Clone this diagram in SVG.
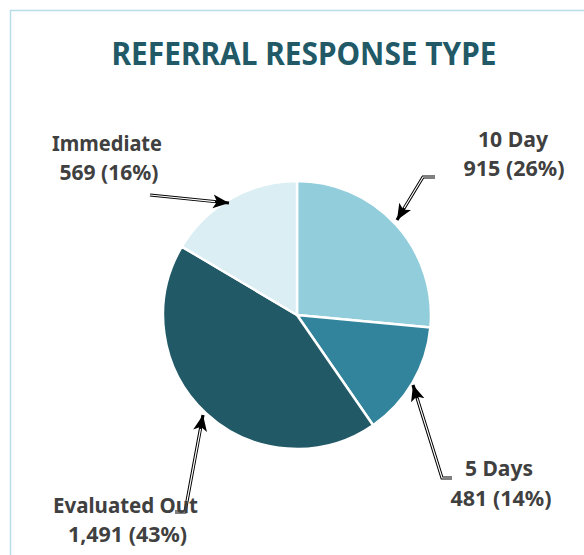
<svg xmlns="http://www.w3.org/2000/svg" width="584" height="555" viewBox="0 0 584 555">
<defs>
<style>
.title{font-family:"Noto Sans","Liberation Sans",sans-serif;font-weight:bold;font-size:32px;fill:#215967;text-anchor:middle}
.lbl{font-family:"Noto Sans","Liberation Sans",sans-serif;font-weight:bold;font-size:22px;fill:#404040;text-anchor:middle}
.slice{stroke:#ffffff;stroke-width:2.5;stroke-linejoin:round}
.outer{fill:none;stroke:#000000;stroke-width:3.2}
.inner{fill:none;stroke:#ffffff;stroke-width:1.2}
</style>
<marker id="arr" markerUnits="userSpaceOnUse" markerWidth="18" markerHeight="16" refX="16" refY="7" orient="auto">
<path d="M0,0 L16,7 L0,14 L4,7 z" fill="#000000"/>
</marker>
</defs>
<rect width="584" height="555" fill="#ffffff"/>
<path d="M10.5,555 L10.5,10.5 L584,10.5" fill="none" stroke="#B7DEE8" stroke-width="1.5"/>
<text class="title" x="304" y="64.5" textLength="385" lengthAdjust="spacingAndGlyphs">REFERRAL RESPONSE TYPE</text>
<g id="pie">
<g id="slice-10day"><path class="slice" fill="#92CDDC" d="M297,315 L297,181 A134,134 0 0 1 430.4,327.4 Z"/></g>
<g id="slice-5days"><path class="slice" fill="#31849B" d="M297,315 L430.4,327.4 A134,134 0 0 1 373.1,425.3 Z"/></g>
<g id="slice-evaluated"><path class="slice" fill="#215967" d="M297,315 L373.1,425.3 A134,134 0 0 1 181.8,246.6 Z"/></g>
<g id="slice-immediate"><path class="slice" fill="#DAEEF3" d="M297,315 L181.8,246.6 A134,134 0 0 1 297,181 Z"/></g>
</g>
<g id="connectors">
<path class="outer" marker-end="url(#arr)" d="M150,195 L229,203"/>
<path class="inner" d="M150,195 L215,201.6"/>
<path class="outer" marker-end="url(#arr)" d="M435,177 L423,177 L397,220"/>
<path class="inner" d="M435,177 L423,177 L404.2,208"/>
<path class="outer" marker-end="url(#arr)" d="M452,478 L442,478 L413,385"/>
<path class="inner" d="M452,478 L442,478 L417.2,398.4"/>
<path class="outer" marker-end="url(#arr)" d="M175,512 L185,512 L203,415"/>
<path class="inner" d="M175,512 L185,512 L200.5,428.8"/>
</g>
<g id="label-immediate"><text class="lbl" x="107" y="151" textLength="110" lengthAdjust="spacingAndGlyphs">Immediate</text><text class="lbl" x="109" y="180" textLength="99" lengthAdjust="spacingAndGlyphs">569 (16%)</text></g>
<g id="label-10day"><text class="lbl" x="513" y="147" textLength="70" lengthAdjust="spacingAndGlyphs">10 Day</text><text class="lbl" x="514" y="176" textLength="101" lengthAdjust="spacingAndGlyphs">915 (26%)</text></g>
<g id="label-5days"><text class="lbl" x="499" y="476" textLength="68" lengthAdjust="spacingAndGlyphs">5 Days</text><text class="lbl" x="501" y="506" textLength="101" lengthAdjust="spacingAndGlyphs">481 (14%)</text></g>
<g id="label-evaluated"><text class="lbl" x="125.5" y="513" textLength="145" lengthAdjust="spacingAndGlyphs">Evaluated Out</text><text class="lbl" x="127.5" y="542" textLength="119" lengthAdjust="spacingAndGlyphs">1,491 (43%)</text></g>
</svg>
